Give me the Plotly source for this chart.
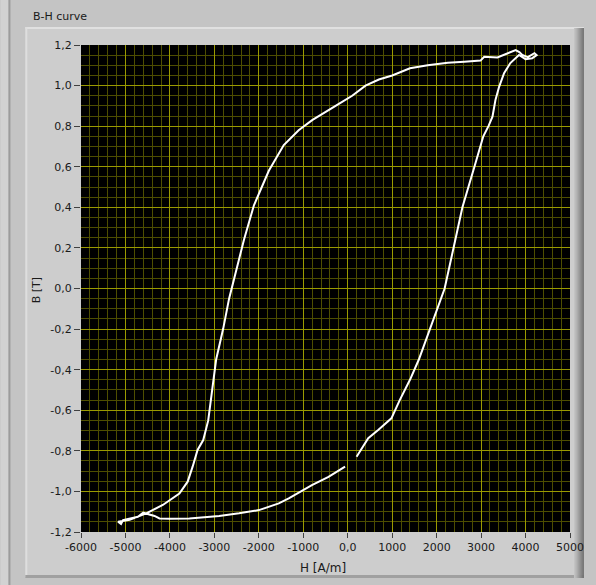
import plotly.graph_objects as go

# ---- data ----
H_right = [199, 461, 685, 982, 1170, 1400, 1600, 1850, 2050, 2180, 2380, 2580, 2850,
           3050, 3166, 3256, 3323, 3405, 3517, 3658, 3852, 4000, 4150, 4250, 4200,
           4050, 3926, 3860, 3777, 3591, 3367, 3070, 2987, 2623, 2250, 1800, 1400,
           1000, 700, 400, 100, -200, -500, -800, -1104, -1439, -1775, -2110, -2334,
           -2512, -2669, -2803, -2960, -3049, -3138, -3250, -3378, -3489, -3601,
           -3787, -4160, -4533, -4905, -5166, -5100, -5054, -4719, -4600, -4346,
           -4234, -4010, -3563, -3266, -2892, -2445, -1998, -1551, -1327, -806,
           -433, -60]
B_right = [-0.829, -0.738, -0.697, -0.64, -0.55, -0.45, -0.35, -0.2, -0.07, 0.0, 0.2,
           0.4, 0.6, 0.75, 0.8, 0.847, 0.929, 0.994, 1.061, 1.111, 1.151, 1.13, 1.135,
           1.15, 1.16, 1.14, 1.151, 1.165, 1.175, 1.159, 1.139, 1.142, 1.123, 1.118,
           1.113, 1.10, 1.085, 1.05, 1.03, 1.0, 0.95, 0.91, 0.87, 0.83, 0.78, 0.707,
           0.58, 0.41, 0.24, 0.09, -0.05, -0.2, -0.35, -0.5, -0.65, -0.747, -0.796,
           -0.878, -0.952, -1.01, -1.067, -1.108, -1.14, -1.149, -1.16, -1.141,
           -1.125, -1.105, -1.121, -1.133, -1.135, -1.133, -1.128, -1.121, -1.108,
           -1.092, -1.059, -1.034, -0.969, -0.928, -0.878]

x_tickvals = [-6000, -5000, -4000, -3000, -2000, -1000, 0, 1000, 2000, 3000, 4000, 5000]
x_ticktext = ["-6000", "-5000", "-4000", "-3000", "-2000", "-1000", "0,0", "1000",
              "2000", "3000", "4000", "5000"]
y_tickvals = [1.2, 1.0, 0.8, 0.6, 0.4, 0.2, 0.0, -0.2, -0.4, -0.6, -0.8, -1.0, -1.2]
y_ticktext = ["1,2", "1,0", "0,8", "0,6", "0,4", "0,2", "0,0", "-0,2", "-0,4", "-0,6",
              "-0,8", "-1,0", "-1,2"]

title_text = "B-H curve"
x_title = "H [A/m]"
y_title = "B [T]"

# ---- layout geometry ----
W, Hh = 596, 585
L, R, T, B = 81, 23, 45, 53
PW, PH = W - L - R, Hh - T - B


def px(x):
    return (x - L) / PW


def py(y):
    return 1 - (y - T) / PH


def rect(x0, y0, x1, y1, color):
    return dict(type="rect", xref="paper", yref="paper", layer="below",
                x0=px(x0), x1=px(x1), y0=py(y1), y1=py(y0),
                fillcolor=color, line=dict(width=0))


shapes = [
    rect(0, 0, 8, Hh, "#d2d2d2"),
    rect(8, 0, 10, Hh, "#9c9c9c"),
    rect(25, 27, 587, 577, "#cdcdcd"),
    rect(25, 27, 587, 29, "#e0e0e0"),
    rect(25, 27, 27, 577, "#dedede"),
    rect(25, 575, 587, 578, "#a0a0a0"),
]
grad = ["#c4c4c4", "#bcbcbc", "#b4b4b4", "#aaaaaa", "#a0a0a0", "#969696",
        "#8c8c8c", "#828282", "#787878", "#707070"]
for i, c in enumerate(grad):
    shapes.append(rect(577 + i, 28, 578 + i, 578, c))
shapes.append(rect(L, T, L + PW, T + PH, "#000000"))

font = "DejaVu Sans"
fig = go.Figure()
fig.add_trace(go.Scatter(x=H_right, y=B_right, mode="lines",
                         line=dict(color="#ffffff", width=2), hoverinfo="skip",
                         showlegend=False))

fig.update_layout(
    width=W, height=Hh, autosize=False,
    margin=dict(l=L, r=R, t=T, b=B, pad=0),
    paper_bgcolor="#c4c4c4", plot_bgcolor="#000000",
    shapes=shapes,
    font=dict(family=font, size=11, color="#1a1a1a"),
    annotations=[
        dict(text=title_text, xref="paper", yref="paper", x=px(31), y=py(16),
             xanchor="left", yanchor="middle", showarrow=False,
             font=dict(family=font, size=11, color="#1a1a1a")),
        dict(text=x_title, xref="paper", yref="paper", x=px(324), y=py(568),
             xanchor="center", yanchor="middle", showarrow=False,
             font=dict(family=font, size=12, color="#1a1a1a")),
        dict(text=y_title, xref="paper", yref="paper", x=px(36), y=py(290),
             xanchor="center", yanchor="middle", showarrow=False, textangle=-90,
             font=dict(family=font, size=11, color="#1a1a1a")),
    ],
)
fig.update_xaxes(
    range=[-6000, 5000], tickmode="array", tickvals=x_tickvals, ticktext=x_ticktext,
    showgrid=True, gridcolor="#9a9a00", gridwidth=1, zeroline=False,
    ticks="outside", ticklen=5, tickcolor="#404040", showline=False,
    tickfont=dict(family=font, size=11, color="#1a1a1a"),
    minor=dict(tickmode="linear", tick0=0, dtick=200, showgrid=True,
               gridcolor="#4e4e00", gridwidth=1, ticks=""),
    fixedrange=True,
)
fig.update_yaxes(
    range=[-1.2, 1.2], tickmode="array", tickvals=y_tickvals, ticktext=y_ticktext,
    showgrid=True, gridcolor="#9a9a00", gridwidth=1, zeroline=False,
    ticks="outside", ticklen=6, tickcolor="#404040", showline=False,
    tickfont=dict(family=font, size=11, color="#1a1a1a"),
    minor=dict(tickmode="linear", tick0=0, dtick=0.05, showgrid=True,
               gridcolor="#4e4e00", gridwidth=1, ticks=""),
    fixedrange=True,
)

fig.write_html("out.html", config={"displayModeBar": False})
